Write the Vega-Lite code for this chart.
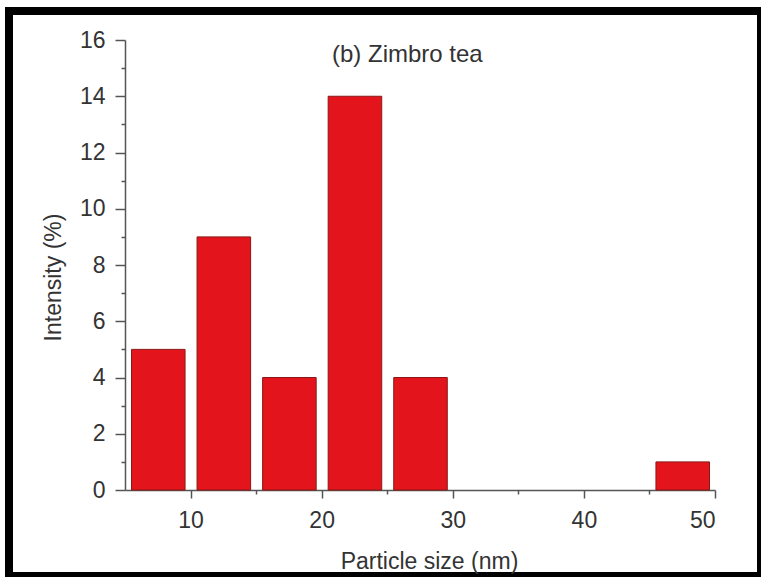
{
  "$schema": "https://vega.github.io/schema/vega-lite/v6.json",
  "width": 752,
  "height": 565,
  "autosize": {"type": "none"},
  "padding": {"left": 9, "top": 11, "right": 0, "bottom": 1},
  "background": "white",
  "view": {"stroke": "black", "strokeWidth": 8, "fill": "white"},
  "title": {
    "text": "(b) Zimbro tea",
    "anchor": "start",
    "frame": "group",
    "orient": "top",
    "offset": 0,
    "baseline": "alphabetic",
    "dx": 323,
    "dy": 75,
    "font": "Liberation Sans",
    "fontSize": 24,
    "fontWeight": "normal",
    "color": "#333333"
  },
  "data": {
    "values": [
      {"start": 5, "end": 10, "intensity": 5},
      {"start": 10, "end": 15, "intensity": 9},
      {"start": 15, "end": 20, "intensity": 4},
      {"start": 20, "end": 25, "intensity": 14},
      {"start": 25, "end": 30, "intensity": 4},
      {"start": 45, "end": 50, "intensity": 1}
    ]
  },
  "mark": {"type": "bar", "fill": "#E3141B", "stroke": "#8a1818", "strokeWidth": 1},
  "encoding": {
    "x": {
      "field": "start",
      "type": "quantitative",
      "bin": "binned",
      "scale": {"domain": [5, 50], "range": [116, 706], "nice": false, "zero": false},
      "axis": {
        "title": "Particle size (nm)",
        "values": [10, 15, 20, 25, 30, 35, 40, 45, 50],
        "labelExpr": "datum.value % 10 === 0 ? datum.label : ''",
        "offset": -86,
        "tickSize": {"condition": {"test": "datum.value % 10 !== 0", "value": 4}, "value": 8},
        "labelPadding": 11,
        "titleX": 420,
        "titleY": 78,
        "titleBaseline": "alphabetic",
        "titleAnchor": "middle"
      }
    },
    "x2": {"field": "end"},
    "y": {
      "field": "intensity",
      "type": "quantitative",
      "scale": {"domain": [0, 16], "range": [479, 29], "nice": false},
      "axis": {
        "title": "Intensity (%)",
        "values": [0, 1, 2, 3, 4, 5, 6, 7, 8, 9, 10, 11, 12, 13, 14, 15, 16],
        "labelExpr": "datum.value % 2 === 0 ? datum.label : ''",
        "offset": -116,
        "tickSize": {"condition": {"test": "datum.value % 2 !== 0", "value": 4}, "value": 10},
        "labelPadding": 10,
        "titleX": -65,
        "titleY": 266,
        "titleAngle": 270,
        "titleAlign": "center",
        "titleBaseline": "alphabetic"
      }
    }
  },
  "config": {
    "bar": {"binSpacing": 12},
    "axis": {
      "grid": false,
      "domainColor": "#555555",
      "domainWidth": 1.5,
      "tickColor": "#555555",
      "tickWidth": 1.5,
      "labelFont": "Liberation Sans",
      "labelFontSize": 23,
      "labelColor": "#333333",
      "titleFont": "Liberation Sans",
      "titleFontSize": 23,
      "titleFontWeight": "normal",
      "titleColor": "#333333"
    }
  }
}
